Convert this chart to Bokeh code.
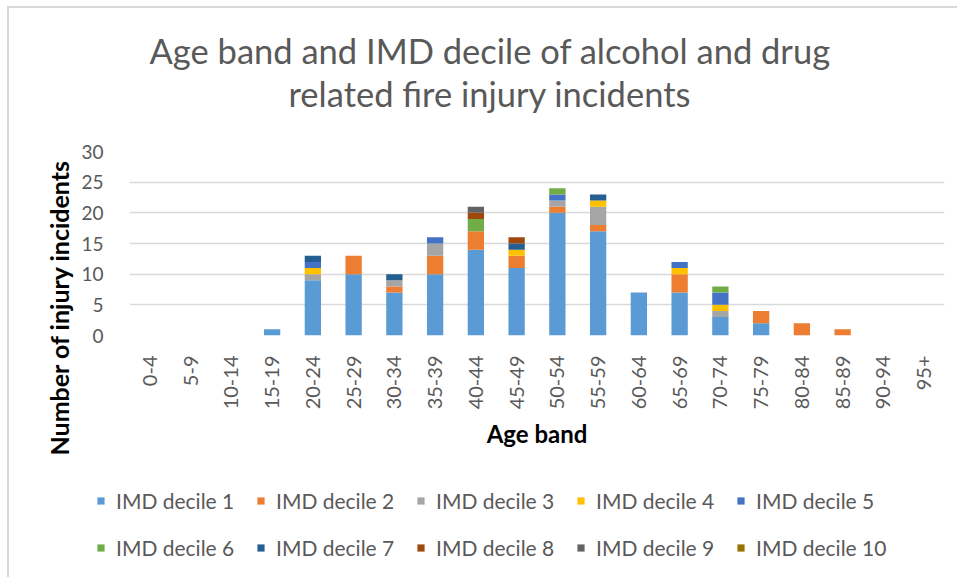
from math import pi
from bokeh.plotting import figure
from bokeh.models import (ColumnDataSource, Range1d, Legend, LegendItem,
                          FactorRange, Title)
from bokeh.embed import file_html
from bokeh.resources import INLINE

age_bands = ["0-4", "5-9", "10-14", "15-19", "20-24", "25-29", "30-34", "35-39",
             "40-44", "45-49", "50-54", "55-59", "60-64", "65-69", "70-74",
             "75-79", "80-84", "85-89", "90-94", "95+"]

decile_1  = [0, 0, 0, 1, 9, 10, 7, 10, 14, 11, 20, 17, 7, 7, 3, 2, 0, 0, 0, 0]
decile_2  = [0, 0, 0, 0, 0, 3, 1, 3, 3, 2, 1, 1, 0, 3, 0, 2, 2, 1, 0, 0]
decile_3  = [0, 0, 0, 0, 1, 0, 1, 2, 0, 0, 1, 3, 0, 0, 1, 0, 0, 0, 0, 0]
decile_4  = [0, 0, 0, 0, 1, 0, 0, 0, 0, 1, 0, 1, 0, 1, 1, 0, 0, 0, 0, 0]
decile_5  = [0, 0, 0, 0, 1, 0, 0, 1, 0, 0, 1, 0, 0, 1, 2, 0, 0, 0, 0, 0]
decile_6  = [0, 0, 0, 0, 0, 0, 0, 0, 2, 0, 1, 0, 0, 0, 1, 0, 0, 0, 0, 0]
decile_7  = [0, 0, 0, 0, 1, 0, 1, 0, 0, 1, 0, 1, 0, 0, 0, 0, 0, 0, 0, 0]
decile_8  = [0, 0, 0, 0, 0, 0, 0, 0, 1, 1, 0, 0, 0, 0, 0, 0, 0, 0, 0, 0]
decile_9  = [0, 0, 0, 0, 0, 0, 0, 0, 1, 0, 0, 0, 0, 0, 0, 0, 0, 0, 0, 0]
decile_10 = [0, 0, 0, 0, 0, 0, 0, 0, 0, 0, 0, 0, 0, 0, 0, 0, 0, 0, 0, 0]

series_names = ["IMD decile 1", "IMD decile 2", "IMD decile 3", "IMD decile 4",
                "IMD decile 5", "IMD decile 6", "IMD decile 7", "IMD decile 8",
                "IMD decile 9", "IMD decile 10"]
series_values = [decile_1, decile_2, decile_3, decile_4, decile_5,
                 decile_6, decile_7, decile_8, decile_9, decile_10]
colors = ["#5B9BD5", "#ED7D31", "#A5A5A5", "#FFC000", "#4472C4",
          "#70AD47", "#255E91", "#9E480E", "#636363", "#997300"]

title_line_1 = "Age band and IMD decile of alcohol and drug"
title_line_2 = "related fire injury incidents"
y_title = "Number of injury incidents"
x_title = "Age band"
y_ticks = [0, 5, 10, 15, 20, 25, 30]

FONT = "Lato"
GREY = "#595959"
BORDER = "2px solid #d9d9d9"

data = {"age": age_bands}
for name, vals in zip(series_names, series_values):
    data[name] = vals
source = ColumnDataSource(data)

# ---------------- main chart ----------------
p = figure(x_range=FactorRange(*age_bands, range_padding=0), y_range=Range1d(0, 30),
           width=950, height=457, output_backend="svg", toolbar_location=None,
           min_border_left=120, min_border_right=15, min_border_top=143,
           min_border_bottom=130)
p.outline_line_color = None
p.styles = {"margin-left": "7px", "margin-top": "6px",
            "border-left": BORDER, "border-top": BORDER}

renderers = p.vbar_stack(series_names, x="age", width=0.4, color=colors,
                         source=source, line_color=None)

p.xgrid.grid_line_color = None
p.ygrid.grid_line_color = "#d9d9d9"
p.ygrid.grid_line_width = 1.3
p.yaxis.ticker = y_ticks

for ax in (p.xaxis[0], p.yaxis[0]):
    ax.axis_line_color = None
    ax.major_tick_line_color = None
    ax.minor_tick_line_color = None
    ax.major_label_text_font = FONT
    ax.major_label_text_color = GREY

p.yaxis.major_label_text_font_size = "19px"
p.xaxis.major_label_text_font_size = "20px"
p.yaxis.major_label_standoff = 20
p.xaxis.major_label_orientation = pi / 2
p.xaxis.major_label_standoff = 14
p.xaxis.axis_label = x_title
p.xaxis.axis_label_text_font = FONT
p.xaxis.axis_label_text_font_style = "bold"
p.xaxis.axis_label_text_font_size = "24px"
p.xaxis.axis_label_text_color = "black"
p.xaxis.axis_label_standoff = 7

# chart title: spacer first (closest to the frame), then the two lines
p.add_layout(Title(text=" ", text_font_size="20px", standoff=14), "above")
p.add_layout(Title(text=title_line_2, align="left", offset=159,
                   text_font=FONT, text_font_size="34.5px", text_color=GREY,
                   text_font_style="normal", standoff=0), "above")
p.add_layout(Title(text=title_line_1, align="left", offset=20,
                   text_font=FONT, text_font_size="34.5px", text_color=GREY,
                   text_font_style="normal", standoff=0), "above")

# y-axis title
p.add_layout(Title(text=y_title, align="left", offset=-120,
                   text_font=FONT, text_font_size="25px", text_color="black",
                   text_font_style="bold", standoff=10), "left")

# ---------------- legend strip (separate root, below the chart) ----------------
q = figure(x_range=FactorRange(*age_bands), y_range=Range1d(-2, -1),
           width=950, height=114, output_backend="svg", toolbar_location=None,
           min_border_left=0, min_border_right=0, min_border_top=0,
           min_border_bottom=0, x_axis_type=None, y_axis_type=None)
q.outline_line_color = None
q.grid.visible = False
q.styles = {"margin-left": "7px", "border-left": BORDER}

# zero-width copies of the series, used only to draw the legend swatches
legend_renderers = q.vbar_stack(series_names, x="age", width=0, color=colors,
                                source=source, line_color=None)
items = [LegendItem(label=n, renderers=[r])
         for n, r in zip(series_names, legend_renderers)]

legend = Legend(items=items, location=(87, 16), orientation="horizontal", ncols=5,
                glyph_width=9, glyph_height=9, label_standoff=11,
                label_width=120, label_height=27, spacing=20, padding=0,
                margin=0, border_line_color=None, background_fill_alpha=0,
                label_text_font=FONT, label_text_color=GREY,
                label_text_font_size="21px")
q.add_layout(legend)

open("out.html", "w").write(file_html((p, q), INLINE))
